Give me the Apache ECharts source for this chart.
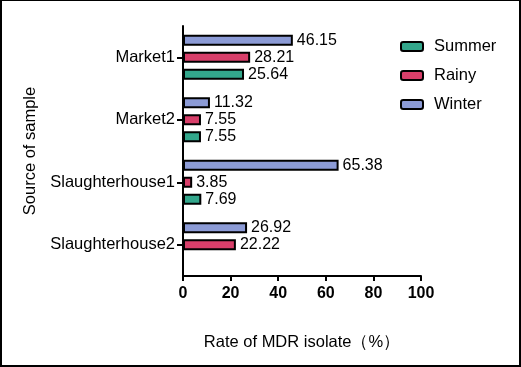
<!DOCTYPE html>
<html>
<head>
<meta charset="utf-8">
<script src="https://cdn.jsdelivr.net/npm/echarts@6/dist/echarts.min.js"></script>
<style>
html,body{margin:0;padding:0;background:#fff;}
#frame{width:521px;height:367px;box-sizing:border-box;border-style:solid;border-color:#000;border-width:1px 2px 2px 2px;position:relative;overflow:hidden;}
#chart{position:absolute;left:-2px;top:-1px;width:521px;height:367px;}
</style>
</head>
<body>
<div id="frame"><div id="chart"></div></div>
<script>
const categories = ['Market1', 'Market2', 'Slaughterhouse1', 'Slaughterhouse2'];
const winter = [46.15, 11.32, 65.38, 26.92];
const rainy = [28.21, 7.55, 3.85, 22.22];
const summer = [25.64, 7.55, 7.69, null];
const xTicks = { min: 0, max: 100, interval: 20 };
const legendOrder = ['Summer', 'Rainy', 'Winter'];

const FONT = 'Liberation Sans, Arial, sans-serif';
const colors = { Winter: '#8c9bd6', Rainy: '#d83f6a', Summer: '#33a78c' };

function barSeries(name, data) {
  return {
    name: name,
    type: 'bar',
    data: data,
    barWidth: 11,
    barGap: '55%',
    itemStyle: { color: colors[name], borderColor: '#000', borderWidth: 2 },
    label: {
      show: true, position: 'right', distance: 4,
      fontFamily: FONT, fontSize: 16, color: '#000',
      formatter: p => (p.value == null ? '' : String(p.value))
    }
  };
}

const chart = echarts.init(document.getElementById('chart'), null, { renderer: 'canvas' });
chart.setOption({
  animation: false,
  backgroundColor: 'transparent',
  textStyle: { fontFamily: FONT },
  grid: { left: 183, right: 100, top: 26, height: 250 },
  legend: {
    data: legendOrder,
    orient: 'vertical',
    left: 395, top: 33,
    itemWidth: 22, itemHeight: 9,
    itemGap: 12,
    textStyle: { fontFamily: FONT, fontSize: 16.5, color: '#000', padding: [0, 0, 0, 6] },
    itemStyle: { borderColor: '#000', borderWidth: 2 }
  },
  xAxis: {
    type: 'value',
    min: xTicks.min, max: xTicks.max, interval: xTicks.interval,
    name: 'Rate of MDR isolate（%）',
    nameLocation: 'middle', nameGap: 58,
    nameTextStyle: { fontFamily: FONT, fontSize: 16.5, color: '#000' },
    axisLine: { show: true, lineStyle: { color: '#000', width: 2 } },
    axisTick: { show: true, length: 5, lineStyle: { color: '#000', width: 2 } },
    axisLabel: { fontFamily: FONT, fontSize: 16, fontWeight: 'bold', color: '#000', margin: 10 },
    splitLine: { show: false }
  },
  yAxis: {
    type: 'category',
    inverse: true,
    data: categories,
    name: 'Source of sample',
    nameLocation: 'middle', nameGap: 144,
    nameTextStyle: { fontFamily: FONT, fontSize: 16.5, color: '#000' },
    axisLine: { show: true, lineStyle: { color: '#000', width: 2 } },
    axisTick: { show: true, alignWithLabel: true, length: 6, lineStyle: { color: '#000', width: 2 } },
    axisLabel: { fontFamily: FONT, fontSize: 16.5, color: '#000', margin: 8 }
  },
  series: [
    barSeries('Winter', winter),
    barSeries('Rainy', rainy),
    barSeries('Summer', summer)
  ]
});
</script>
</body>
</html>
